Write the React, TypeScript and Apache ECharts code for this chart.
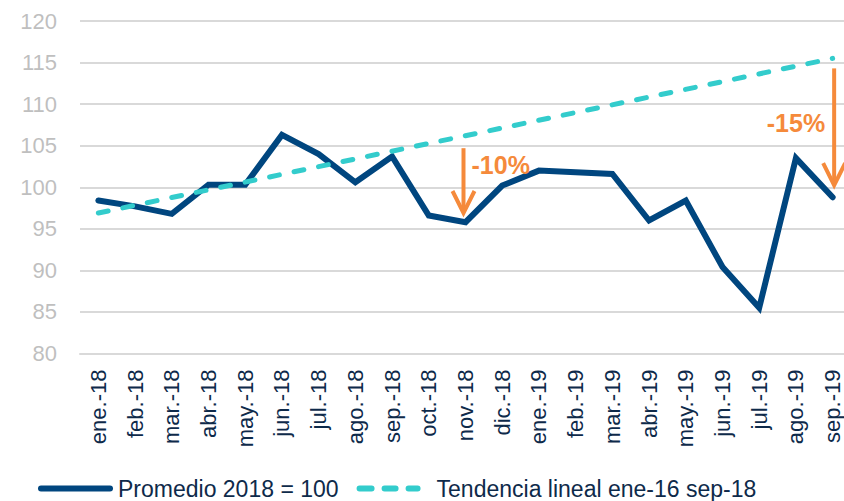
import React, { useEffect, useRef } from "react";
import * as echarts from "echarts";

const categories = [
  "ene.-18", "feb.-18", "mar.-18", "abr.-18", "may.-18", "jun.-18", "jul.-18",
  "ago.-18", "sep.-18", "oct.-18", "nov.-18", "dic.-18", "ene.-19", "feb.-19",
  "mar.-19", "abr.-19", "may.-19", "jun.-19", "jul.-19", "ago.-19", "sep.-19",
];

const indexValues = [
  98.4, 97.7, 96.8, 100.3, 100.3, 106.3, 104.0, 100.6, 103.7, 96.6, 95.8,
  100.2, 102.0, 101.8, 101.6, 96.0, 98.4, 90.4, 85.5, 103.5, 98.8,
];

// linear trend: only its two ends are read, the line joins them
const trendValues: (number | null)[] = [
  96.9, null, null, null, null, null, null, null, null, null, null,
  null, null, null, null, null, null, null, null, null, 115.5,
];

const seriesNames = ["Promedio 2018 = 100", "Tendencia lineal ene-16 sep-18"];

const yTicks = { min: 80, max: 120, interval: 5 };

const arrows = [
  { cat: 10, from: 104.7, to: 96.9, label: "-10%", side: "right" },
  { cat: 20, from: 114.3, to: 100.25, label: "-15%", side: "left" },
];

const NAVY = "#00467F";
const TEAL = "#33CCCC";
const ORANGE = "#F58A3B";
const TEXT_DARK = "#0E2A4A";
const GRID = "#D9D9D9";
const FONT = "'Liberation Sans', Arial, sans-serif";

const pill = (x0: number, x1: number) =>
  `M${x0 + 3},0 L${x1 - 3},0 A3,3 0 0 1 ${x1 - 3},6 L${x0 + 3},6 A3,3 0 0 1 ${x0 + 3},0 Z`;
const solidIcon = "path://" + pill(0, 75);
const dashIcon =
  "path://" + [pill(0, 18), pill(25, 42), pill(49, 64), "M75,0 L75,6"].join(" ");

export default function App() {
  const ref = useRef<HTMLDivElement>(null);

  useEffect(() => {
    if (!ref.current) return;
    const chart = echarts.init(ref.current, null, { renderer: "svg" });
    chart.setOption({
      animation: false,
      textStyle: { fontFamily: FONT },
      grid: {
        left: 80,
        width: 771,
        top: 21,
        bottom: 147.5,
        containLabel: false,
        outerBoundsMode: "none",
      },
      legend: {
        left: 33,
        top: 472,
        itemWidth: 75,
        itemHeight: 6,
        itemGap: 18,
        symbolKeepAspect: false,
        textStyle: { fontSize: 23, color: TEXT_DARK, fontFamily: FONT },
        data: [
          { name: seriesNames[0], icon: solidIcon, itemStyle: { color: NAVY } },
          { name: seriesNames[1], icon: dashIcon, itemStyle: { color: TEAL } },
        ],
      },
      xAxis: {
        type: "category",
        data: categories,
        axisLine: { lineStyle: { color: GRID, width: 2 } },
        axisTick: { length: 6, lineStyle: { color: GRID, width: 2 } },
        axisLabel: {
          rotate: 90,
          interval: 0,
          margin: 16,
          fontSize: 22,
          color: TEXT_DARK,
          fontFamily: FONT,
        },
      },
      yAxis: {
        type: "value",
        min: yTicks.min,
        max: yTicks.max,
        interval: yTicks.interval,
        axisLine: { show: false },
        axisTick: { show: false },
        axisLabel: { fontSize: 22, color: "#BFBFBF", margin: 23, fontFamily: FONT },
        splitLine: { lineStyle: { color: GRID, width: 2 } },
      },
      series: [
        {
          name: seriesNames[0],
          type: "line",
          data: indexValues,
          symbol: "none",
          lineStyle: { color: NAVY, width: 6, cap: "round", join: "miter" },
          itemStyle: { color: NAVY },
          z: 3,
        },
        {
          name: seriesNames[1],
          type: "line",
          data: trendValues,
          connectNulls: true,
          symbol: "none",
          lineStyle: { color: TEAL, width: 5, type: [10, 15], cap: "round" },
          itemStyle: { color: TEAL },
          z: 4,
        },
      ],
    });

    const px = (i: number, v: number) =>
      chart.convertToPixel({ xAxisIndex: 0, yAxisIndex: 0 }, [i, v]) as number[];

    const graphics: any[] = [];
    arrows.forEach((a) => {
      const top = px(a.cat, a.from);
      const tip = px(a.cat, a.to);
      const x = tip[0] + (a.cat === 20 ? 1.5 : -2);
      graphics.push({
        type: "line",
        shape: { x1: x, y1: top[1], x2: x, y2: tip[1] - 2 },
        style: { stroke: ORANGE, lineWidth: 4 },
        z: 10,
      });
      graphics.push({
        type: "polyline",
        shape: { points: [[x - 11, tip[1] - 22], [x, tip[1]], [x + 11, tip[1] - 22]] },
        style: { stroke: ORANGE, lineWidth: 4, fill: null, lineJoin: "miter" },
        z: 10,
      });
      graphics.push({
        type: "text",
        x: a.side === "right" ? x + 8 : x - 9,
        y: a.side === "right" ? top[1] + 17 : top[1] + 55,
        style: {
          text: a.label,
          fill: ORANGE,
          font: `bold 25px ${FONT}`,
          textAlign: a.side === "right" ? "left" : "right",
          textVerticalAlign: "middle",
        },
        z: 11,
      });
    });
    chart.setOption({ graphic: graphics });

    return () => chart.dispose();
  }, []);

  return (
    <div
      ref={ref}
      style={{ position: "absolute", left: 0, top: 0, width: 844, height: 501 }}
    />
  );
}
